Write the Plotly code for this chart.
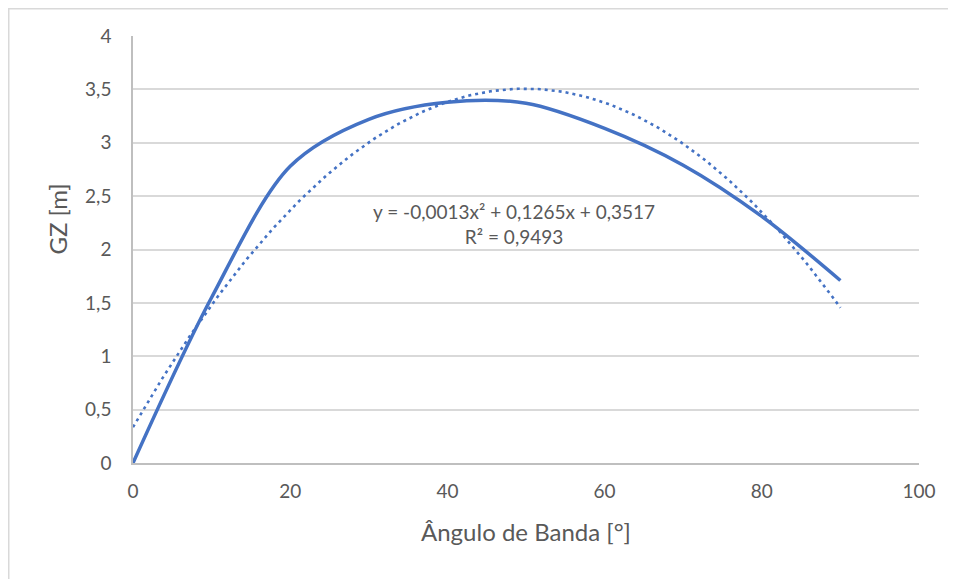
import numpy as np
import plotly.graph_objects as go

angle = [0, 10, 20, 30, 40, 50, 60, 70, 80, 90]
gz = [0.0, 1.55, 2.78, 3.22, 3.38, 3.37, 3.135, 2.79, 2.31, 1.71]

x_ticks = [0, 20, 40, 60, 80, 100]
y_ticks = [0, 0.5, 1, 1.5, 2, 2.5, 3, 3.5, 4]
y_tick_text = ["0", "0,5", "1", "1,5", "2", "2,5", "3", "3,5", "4"]

eq_text = "y = -0,0013x² + 0,1265x + 0,3517<br>R² = 0,9493"

# polynomial trendline (order 2), fitted like the spreadsheet does
coef = np.polyfit(angle, gz, 2)
xt = np.linspace(0, 90, 181)
yt = np.polyval(coef, xt)

# page has an 8px body margin: figure is drawn from (8, 8)
W, H = 948, 571
ML, MT, MR, MB = 125, 28, 37, 116
PW, PH = W - ML - MR, H - MT - MB

blue = "#4472C4"
fig = go.Figure()
fig.add_trace(go.Scatter(x=xt, y=yt, mode="lines",
                         line=dict(color=blue, width=2.6, dash="3px,4px"),
                         hoverinfo="skip", showlegend=False))
fig.add_trace(go.Scatter(x=angle, y=gz, mode="lines",
                         line=dict(color=blue, width=3.5, shape="spline", smoothing=0.9),
                         showlegend=False))

font = "Lato, 'Open Sans', sans-serif"
fig.update_layout(
    width=W, height=H,
    margin=dict(l=ML, r=MR, t=MT, b=MB),
    paper_bgcolor="white", plot_bgcolor="white",
    font=dict(family=font, color="#595959", size=19),
    xaxis=dict(range=[0, 100], tickvals=x_ticks, showgrid=False,
               showline=True, linecolor="#bfbfbf", linewidth=1.5,
               zeroline=False, ticks="", ticklabelstandoff=10, tickfont=dict(size=19),
               title=dict(text="Ângulo de Banda [°]", font=dict(size=24), standoff=24)),
    yaxis=dict(range=[0, 4], tickvals=y_ticks, ticktext=y_tick_text,
               showgrid=True, gridcolor="#d9d9d9", gridwidth=1.5,
               showline=True, linecolor="#bfbfbf", linewidth=1.5,
               zeroline=False, ticks="", ticklabelstandoff=16, tickfont=dict(size=19)),
    annotations=[
        dict(x=0.485, y=2.24, xref="paper", yref="y", text=eq_text,
             showarrow=False, align="center", xanchor="center", yanchor="middle",
             font=dict(size=19, color="#595959")),
        dict(x=(50 - ML) / PW, y=2.28, xref="paper", yref="y", text="GZ [m]",
             textangle=-90, showarrow=False, xanchor="center", yanchor="middle",
             font=dict(size=24, color="#595959")),
    ],
    shapes=[dict(type="rect", xref="paper", yref="paper",
                 x0=(0.75 - ML) / PW, x1=(W + 10 - ML) / PW,
                 y0=(MT + PH - (H + 10)) / PH, y1=(MT + PH - 0.75) / PH,
                 line=dict(color="#d9d9d9", width=1.5), layer="below")],
)

fig.write_html("out.html")
